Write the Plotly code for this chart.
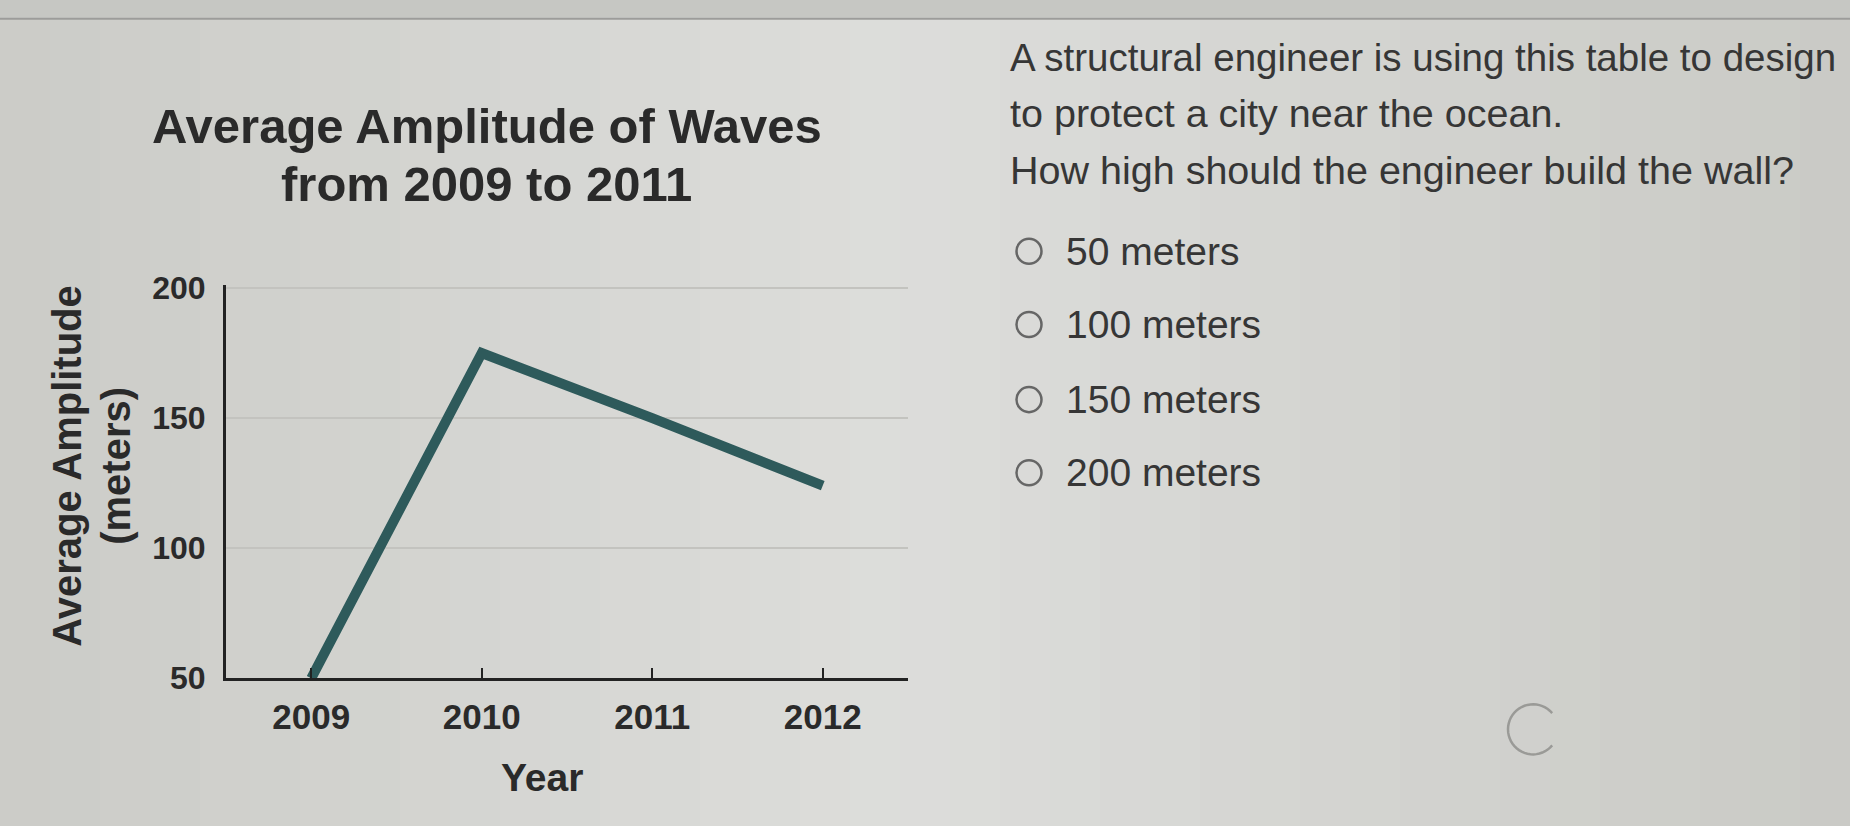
import math
import plotly.graph_objects as go

# ---- data ----
years = [2009, 2010, 2011, 2012]
amplitude = [50, 175, 150, 124]
y_ticks = [50, 100, 150, 200]
x_ticks = [2009, 2010, 2011, 2012]
title_lines = ["Average Amplitude of Waves", "from 2009 to 2011"]
question_lines = [
    "A structural engineer is using this table to design",
    "to protect a city near the ocean.",
    "How high should the engineer build the wall?",
]
options = ["50 meters", "100 meters", "150 meters", "200 meters"]

W, H = 1850, 826
FONT = "Liberation Sans, Arial, sans-serif"
VS, VOFF = 0.958, 17.2   # vertical compensation of the capture


def px(x):
    return x / W


def Y(t):
    """paper y fraction for a target pixel row t (from top)."""
    return 1 - ((t - VOFF) / VS) / H


fig = go.Figure()
fig.add_trace(go.Scatter(
    x=years, y=amplitude, mode="lines",
    line=dict(color="#2e5a5b", width=10),
    showlegend=False, hoverinfo="skip", cliponaxis=False,
))

fig.update_layout(
    width=W, height=H,
    margin=dict(l=0, r=0, t=0, b=0),
    paper_bgcolor="#d8d8d5",
    plot_bgcolor="rgba(0,0,0,0)",
    font=dict(family=FONT, color="#2a2a2a"),
    xaxis=dict(
        domain=[px(226), px(908)], range=[2008.5, 2012.5],
        tickvals=x_ticks, ticktext=[str(v) for v in x_ticks],
        ticks="inside", ticklen=10, tickwidth=2, tickcolor="#222",
        showline=True, linecolor="#222", linewidth=3,
        showgrid=False, zeroline=False,
        tickfont=dict(size=35, family=FONT, color="#2a2a2a", weight="bold"),
        ticklabelstandoff=6,
    ),
    yaxis=dict(
        domain=[Y(679), Y(287)], range=[50, 201],
        tickvals=y_ticks, ticktext=[str(v) for v in y_ticks],
        ticks="", showline=True, linecolor="#222", linewidth=3,
        showgrid=True, gridcolor="#c3c3bf", gridwidth=2,
        zeroline=False,
        tickfont=dict(size=32, family=FONT, color="#2a2a2a", weight="bold"),
        ticklabelstandoff=11,
    ),
)

ann = []
for i, t in enumerate(title_lines):
    ann.append(dict(x=px(487), y=Y(128 + 58 * i), xref="paper", yref="paper",
                    text=f"<b>{t}</b>", showarrow=False, xanchor="center", yanchor="middle",
                    font=dict(size=49, family=FONT, color="#2a2a2a")))
ann.append(dict(x=px(67), y=Y(467), xref="paper", yref="paper", text="<b>Average Amplitude</b>",
                textangle=-90, showarrow=False, xanchor="center", yanchor="middle",
                font=dict(size=40, family=FONT, color="#2a2a2a")))
ann.append(dict(x=px(116), y=Y(467), xref="paper", yref="paper", text="<b>(meters)</b>",
                textangle=-90, showarrow=False, xanchor="center", yanchor="middle",
                font=dict(size=40, family=FONT, color="#2a2a2a")))
ann.append(dict(x=px(542), y=Y(778), xref="paper", yref="paper", text="<b>Year</b>",
                showarrow=False, xanchor="center", yanchor="middle",
                font=dict(size=39, family=FONT, color="#2a2a2a")))
q_sizes = [38.5, 39.5, 39.5]
for t, yy, fs in zip(question_lines, [60, 115, 172], q_sizes):
    ann.append(dict(x=px(1008), y=Y(yy), xref="paper", yref="paper", text=t,
                    showarrow=False, xanchor="left", yanchor="middle",
                    font=dict(size=fs, family=FONT, color="#363636")))

opt_y = [253, 326, 401, 474]
shapes = []
# soft background vignette (darker at the edges)
n = 37
for i in range(n):
    xc = (i + 0.5) / n * W
    if xc < 900:
        f = xc / 900
        c = [203 + (221 - 203) * f, 204 + (221 - 204) * f, 199 + (219 - 199) * f]
    else:
        f = (xc - 900) / (W - 900)
        c = [221 + (201 - 221) * f, 221 + (202 - 221) * f, 219 + (197 - 219) * f]
    shapes.append(dict(type="rect", xref="paper", yref="paper", x0=i / n, x1=(i + 1) / n + 0.001,
                       y0=-0.1, y1=1.1, layer="below", line=dict(width=0),
                       fillcolor="rgb(%d,%d,%d)" % tuple(int(round(v)) for v in c)))

for t, yy in zip(options, opt_y):
    ann.append(dict(x=px(1064), y=Y(yy), xref="paper", yref="paper", text=t,
                    showarrow=False, xanchor="left", yanchor="middle",
                    font=dict(size=39, family=FONT, color="#363636")))
    r = 12.5
    shapes.append(dict(type="circle", xref="paper", yref="paper",
                       x0=px(1029 - r), x1=px(1029 + r), y0=Y(yy + r), y1=Y(yy - r),
                       line=dict(color="#666666", width=2.5), fillcolor="rgba(0,0,0,0)"))

# top band of the screen
shapes.append(dict(type="rect", xref="paper", yref="paper", x0=0, x1=1, y0=Y(20), y1=1.1,
                   fillcolor="#c6c7c3", line=dict(width=0), layer="below"))
shapes.append(dict(type="line", xref="paper", yref="paper", x0=0, x1=1, y0=Y(21), y1=Y(21),
                   line=dict(color="#9c9c9a", width=2)))

# faint cursor ring at lower right
pts = []
for k in range(0, 41):
    a = math.radians(40 + k * 7)
    pts.append((px(1533 + 25 * math.cos(a)), Y(730 - 25 * math.sin(a))))
path = "M " + " L ".join("%.5f,%.5f" % p for p in pts)
shapes.append(dict(type="path", xref="paper", yref="paper", path=path,
                   line=dict(color="#9a9a97", width=2.5)))

fig.update_layout(annotations=ann, shapes=shapes)
fig.write_html("out.html")
